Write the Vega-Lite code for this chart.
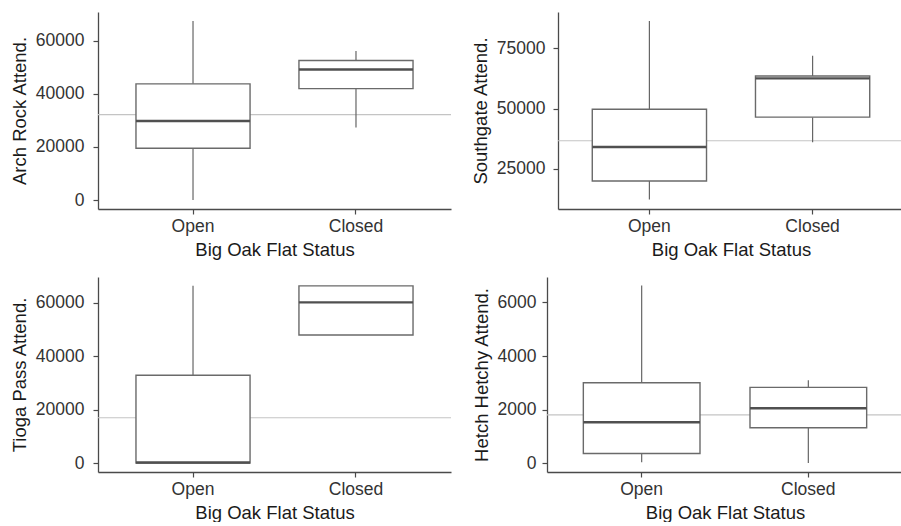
{
  "$schema": "https://vega.github.io/schema/vega-lite/v6.json",
  "padding": {"left": 10, "top": 12, "right": 0, "bottom": 0},
  "background": "white",
  "datasets": {
    "stats": [
      {"panel": "Arch Rock", "status": "Open", "min": 0, "q1": 19500, "median": 29800, "q3": 43800, "max": 67500},
      {"panel": "Arch Rock", "status": "Closed", "min": 27300, "q1": 42000, "median": 49200, "q3": 52600, "max": 56200},
      {"panel": "Southgate", "status": "Open", "min": 12200, "q1": 19900, "median": 34000, "q3": 49700, "max": 86300},
      {"panel": "Southgate", "status": "Closed", "min": 36000, "q1": 46400, "median": 62500, "q3": 63500, "max": 71900},
      {"panel": "Tioga Pass", "status": "Open", "min": 0, "q1": 0, "median": 250, "q3": 32900, "max": 66400},
      {"panel": "Tioga Pass", "status": "Closed", "min": 48000, "q1": 48000, "median": 60200, "q3": 66400, "max": 66400},
      {"panel": "Hetch Hetchy", "status": "Open", "min": 30, "q1": 360, "median": 1530, "q3": 3000, "max": 6630},
      {"panel": "Hetch Hetchy", "status": "Closed", "min": 10, "q1": 1320, "median": 2050, "q3": 2830, "max": 3100}
    ],
    "refs": [
      {"panel": "Arch Rock", "ref": 32200},
      {"panel": "Southgate", "ref": 36600},
      {"panel": "Tioga Pass", "ref": 17000},
      {"panel": "Hetch Hetchy", "ref": 1800}
    ]
  },
  "config": {
    "view": {"stroke": null},
    "axis": {
      "grid": false,
      "domainColor": "#4a4a4a",
      "domainWidth": 1.3,
      "tickColor": "#4a4a4a",
      "tickWidth": 1.2,
      "tickSize": 5,
      "labelFont": "Liberation Sans",
      "titleFont": "Liberation Sans",
      "labelFontSize": 17.5,
      "titleFontSize": 18.5,
      "titleFontWeight": "normal",
      "labelColor": "#333",
      "titleColor": "#1a1a1a",
      "labelPadding": 3,
      "titlePadding": 6
    },
    "axisX": {"labelAngle": 0, "titlePadding": 6}
  },
  "vconcat": [
    {
      "hconcat": [
        {
          "width": 353, "height": 197,
          "layer": [
            {"data": {"name": "refs"}, "transform": [{"filter": "datum.panel === 'Arch Rock'"}],
             "mark": {"type": "rule", "color": "#c4c4c4", "strokeWidth": 1.2},
             "encoding": {"y": {"field": "ref", "type": "quantitative", "title": "Arch Rock Attend.", "scale": {"domain": [-3375, 70875], "nice": false, "zero": false}, "axis": {"values": [0, 20000, 40000, 60000], "format": "d", "labelPadding": 9}}}},
            {"data": {"name": "stats"}, "transform": [{"filter": "datum.panel === 'Arch Rock'"}],
             "encoding": {"x": {"field": "status", "type": "nominal", "sort": ["Open", "Closed"], "title": "Big Oak Flat Status", "scale": {"paddingInner": 0.3, "paddingOuter": 0.233}}},
             "layer": [
               {"mark": {"type": "rule", "color": "#666", "strokeWidth": 1.2}, "encoding": {"y": {"field": "min", "type": "quantitative", "title": "Arch Rock Attend."}, "y2": {"field": "q1"}}},
               {"mark": {"type": "rule", "color": "#666", "strokeWidth": 1.2}, "encoding": {"y": {"field": "q3", "type": "quantitative", "title": "Arch Rock Attend."}, "y2": {"field": "max"}}},
               {"mark": {"type": "bar", "fill": "white", "stroke": "#6a6a6a", "strokeWidth": 1.4}, "encoding": {"y": {"field": "q1", "type": "quantitative", "title": "Arch Rock Attend."}, "y2": {"field": "q3"}}},
               {"mark": {"type": "bar", "fill": "transparent", "stroke": "#505050", "strokeWidth": 2.4}, "encoding": {"y": {"field": "median", "type": "quantitative", "title": "Arch Rock Attend."}, "y2": {"field": "median"}}}
             ]}
          ]
        },
        {
          "width": 346, "height": 197,
          "layer": [
            {"data": {"name": "refs"}, "transform": [{"filter": "datum.panel === 'Southgate'"}],
             "mark": {"type": "rule", "color": "#c4c4c4", "strokeWidth": 1.2},
             "encoding": {"y": {"field": "ref", "type": "quantitative", "title": "Southgate Attend.", "scale": {"domain": [8264, 90075], "nice": false, "zero": false}, "axis": {"values": [25000, 50000, 75000], "format": "d", "labelPadding": 8}}}},
            {"data": {"name": "stats"}, "transform": [{"filter": "datum.panel === 'Southgate'"}],
             "encoding": {"x": {"field": "status", "type": "nominal", "sort": ["Open", "Closed"], "title": "Big Oak Flat Status", "scale": {"paddingInner": 0.3, "paddingOuter": 0.21}}},
             "layer": [
               {"mark": {"type": "rule", "color": "#666", "strokeWidth": 1.2}, "encoding": {"y": {"field": "min", "type": "quantitative", "title": "Southgate Attend."}, "y2": {"field": "q1"}}},
               {"mark": {"type": "rule", "color": "#666", "strokeWidth": 1.2}, "encoding": {"y": {"field": "q3", "type": "quantitative", "title": "Southgate Attend."}, "y2": {"field": "max"}}},
               {"mark": {"type": "bar", "fill": "white", "stroke": "#6a6a6a", "strokeWidth": 1.4}, "encoding": {"y": {"field": "q1", "type": "quantitative", "title": "Southgate Attend."}, "y2": {"field": "q3"}}},
               {"mark": {"type": "bar", "fill": "transparent", "stroke": "#505050", "strokeWidth": 2.4}, "encoding": {"y": {"field": "median", "type": "quantitative", "title": "Southgate Attend."}, "y2": {"field": "median"}}}
             ]}
          ]
        }
      ],
      "spacing": 19
    },
    {
      "hconcat": [
        {
          "width": 353, "height": 195,
          "layer": [
            {"data": {"name": "refs"}, "transform": [{"filter": "datum.panel === 'Tioga Pass'"}],
             "mark": {"type": "rule", "color": "#c4c4c4", "strokeWidth": 1.2},
             "encoding": {"y": {"field": "ref", "type": "quantitative", "title": "Tioga Pass Attend.", "scale": {"domain": [-3320, 69720], "nice": false, "zero": false}, "axis": {"values": [0, 20000, 40000, 60000], "format": "d", "labelPadding": 9}}}},
            {"data": {"name": "stats"}, "transform": [{"filter": "datum.panel === 'Tioga Pass'"}],
             "encoding": {"x": {"field": "status", "type": "nominal", "sort": ["Open", "Closed"], "title": "Big Oak Flat Status", "scale": {"paddingInner": 0.3, "paddingOuter": 0.233}}},
             "layer": [
               {"mark": {"type": "rule", "color": "#666", "strokeWidth": 1.2}, "encoding": {"y": {"field": "min", "type": "quantitative", "title": "Tioga Pass Attend."}, "y2": {"field": "q1"}}},
               {"mark": {"type": "rule", "color": "#666", "strokeWidth": 1.2}, "encoding": {"y": {"field": "q3", "type": "quantitative", "title": "Tioga Pass Attend."}, "y2": {"field": "max"}}},
               {"mark": {"type": "bar", "fill": "white", "stroke": "#6a6a6a", "strokeWidth": 1.4}, "encoding": {"y": {"field": "q1", "type": "quantitative", "title": "Tioga Pass Attend."}, "y2": {"field": "q3"}}},
               {"mark": {"type": "bar", "fill": "transparent", "stroke": "#505050", "strokeWidth": 2.4}, "encoding": {"y": {"field": "median", "type": "quantitative", "title": "Tioga Pass Attend."}, "y2": {"field": "median"}}}
             ]}
          ]
        },
        {
          "width": 356, "height": 195,
          "layer": [
            {"data": {"name": "refs"}, "transform": [{"filter": "datum.panel === 'Hetch Hetchy'"}],
             "mark": {"type": "rule", "color": "#c4c4c4", "strokeWidth": 1.2},
             "encoding": {"y": {"field": "ref", "type": "quantitative", "title": "Hetch Hetchy Attend.", "scale": {"domain": [-330, 6950], "nice": false, "zero": false}, "axis": {"values": [0, 2000, 4000, 6000], "format": "d", "labelPadding": 6}}}},
            {"data": {"name": "stats"}, "transform": [{"filter": "datum.panel === 'Hetch Hetchy'"}],
             "encoding": {"x": {"field": "status", "type": "nominal", "sort": ["Open", "Closed"], "title": "Big Oak Flat Status", "scale": {"paddingInner": 0.3, "paddingOuter": 0.218}}},
             "layer": [
               {"mark": {"type": "rule", "color": "#666", "strokeWidth": 1.2}, "encoding": {"y": {"field": "min", "type": "quantitative", "title": "Hetch Hetchy Attend."}, "y2": {"field": "q1"}}},
               {"mark": {"type": "rule", "color": "#666", "strokeWidth": 1.2}, "encoding": {"y": {"field": "q3", "type": "quantitative", "title": "Hetch Hetchy Attend."}, "y2": {"field": "max"}}},
               {"mark": {"type": "bar", "fill": "white", "stroke": "#6a6a6a", "strokeWidth": 1.4}, "encoding": {"y": {"field": "q1", "type": "quantitative", "title": "Hetch Hetchy Attend."}, "y2": {"field": "q3"}}},
               {"mark": {"type": "bar", "fill": "transparent", "stroke": "#505050", "strokeWidth": 2.4}, "encoding": {"y": {"field": "median", "type": "quantitative", "title": "Hetch Hetchy Attend."}, "y2": {"field": "median"}}}
             ]}
          ]
        }
      ],
      "spacing": 20
    }
  ],
  "spacing": 18
}
